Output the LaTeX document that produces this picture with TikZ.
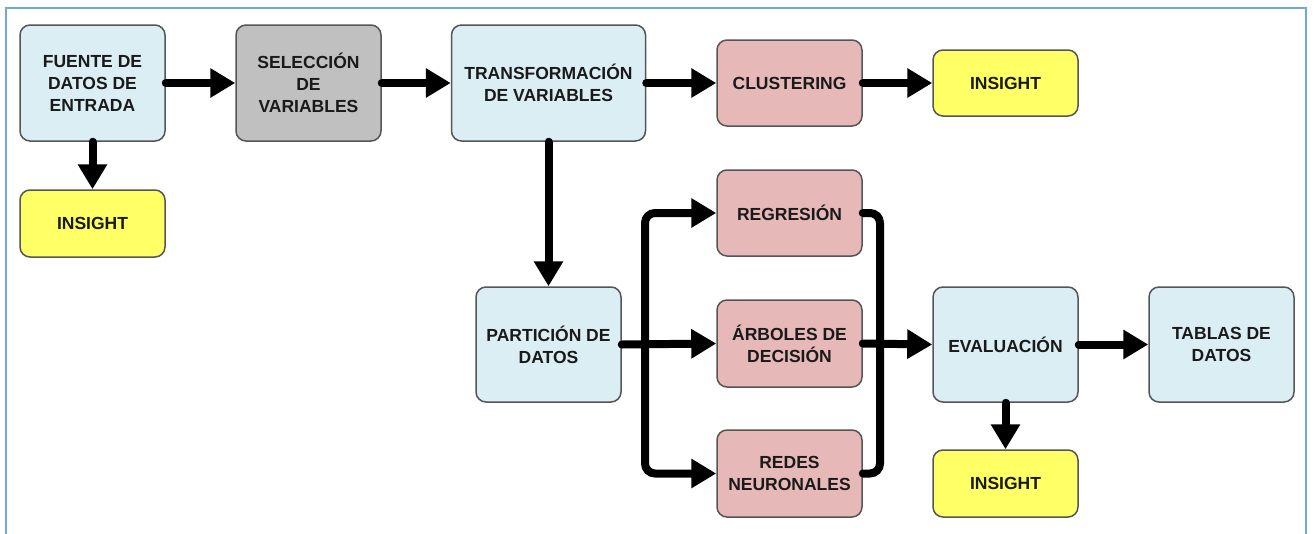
\documentclass[tikz,border=0pt]{standalone}
\usepackage{fontspec}
\setmainfont{Liberation Sans}
\usetikzlibrary{arrows.meta}
\definecolor{frameblue}{HTML}{6FA8DC}
\definecolor{boxblue}{HTML}{DBEEF4}
\definecolor{boxgray}{HTML}{C0C0C0}
\definecolor{boxpink}{HTML}{E6B9B8}
\definecolor{boxyellow}{HTML}{FFFF66}
\definecolor{edgegray}{HTML}{555555}
\definecolor{txt}{HTML}{1A1A1A}
\tikzset{
  box/.style={draw=edgegray, line width=1.5pt, rounded corners=10pt,
    minimum width=145pt, inner sep=0pt, align=center, text=txt,
    font=\fontsize{17.5}{22}\selectfont\bfseries},
  bluebox/.style={box, fill=boxblue, minimum height=116pt},
  graybox/.style={box, fill=boxgray, minimum height=116pt},
  pinkbox/.style={box, fill=boxpink, minimum height=87pt},
  insbox/.style={box, fill=boxyellow, minimum height=67pt},
  flow/.style={line width=8pt, line cap=round, rounded corners=10pt,
    -{Triangle[length=25pt,width=28pt]}},
  link/.style={line width=8pt, line cap=round, rounded corners=10pt}
}
\begin{document}
\begin{tikzpicture}[x=1pt,y=-1pt]
  \useasboundingbox (0,0) rectangle (1314,533);
  \fill[white] (0,0) rectangle (1314,533);
  % outer frame
  \draw[frameblue, line width=2pt] (6,540) -- (6,8) -- (1306,8) -- (1306,540);

  % boxes
  \node[bluebox] (fuente) at (92.5,83) {FUENTE DE\\DATOS DE\\ENTRADA};
  \node[insbox] (ins1) at (92.5,223.5) {INSIGHT};
  \node[graybox] (sel) at (308.5,83) {SELECCIÓN\\DE\\VARIABLES};
  \node[bluebox, minimum width=194pt] (trans) at (548.5,83) {TRANSFORMACIÓN\\DE VARIABLES};
  \node[pinkbox, minimum height=86pt] (clus) at (789.5,83) {CLUSTERING};
  \node[insbox, minimum height=66pt] (ins2) at (1005.5,83) {INSIGHT};
  \node[bluebox, minimum height=115pt] (part) at (548.5,344.5) {PARTICIÓN DE\\DATOS};
  \node[pinkbox, minimum height=86pt] (reg) at (789.5,213) {REGRESIÓN};
  \node[pinkbox] (arb) at (789.5,343.5) {ÁRBOLES DE\\DECISIÓN};
  \node[pinkbox] (red) at (789.5,473.5) {REDES\\NEURONALES};
  \node[bluebox, minimum height=115pt] (eval) at (1005.5,344.5) {EVALUACIÓN};
  \node[bluebox, minimum height=115pt] (tab) at (1221.5,344.5) {TABLAS DE\\DATOS};
  \node[insbox] (ins3) at (1005.5,483.5) {INSIGHT};

  % branch points
  \coordinate (split) at (645,345);
  \coordinate (merge) at (880,345);

  % connectors
  \draw[flow] (fuente.east) -- (sel.west);
  \draw[flow] (fuente.south) -- (ins1.north);
  \draw[flow] (sel.east) -- (trans.west);
  \draw[flow] (trans.east) -- (clus.west);
  \draw[flow] (clus.east) -- (ins2.west);
  \draw[flow] (trans.south) -- (part.north);
  \draw[flow] (part.east) -- (arb.west);
  \draw[flow] (split) |- (reg.west);
  \draw[flow] (split) |- (red.west);
  \draw[link] (reg.east) -| (merge) |- (red.east);
  \draw[flow] (arb.east) -- (eval.west);
  \draw[flow] (eval.east) -- (tab.west);
  \draw[flow] (eval.south) -- (ins3.north);
\end{tikzpicture}
\end{document}
